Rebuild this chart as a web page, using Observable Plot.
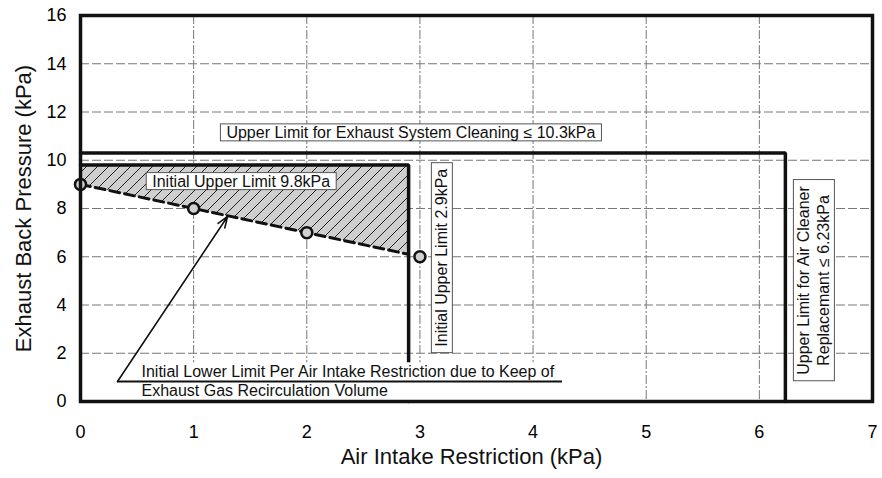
<!DOCTYPE html>
<html><head><meta charset="utf-8">
<script src="https://cdn.jsdelivr.net/npm/d3@7"></script>
<script src="https://cdn.jsdelivr.net/npm/@observablehq/plot@0.6"></script>
<style>body{margin:0;background:#fff} svg{display:block}</style>
</head><body><div id="chart"></div>
<script>
// ---- data ----
const xTicks = [0, 1, 2, 3, 4, 5, 6, 7];
const yTicks = [0, 2, 4, 6, 8, 10, 12, 14, 16];
const gridX = [1, 2, 3, 4, 5, 6];
const gridY = [2, 4, 6, 8, 10, 12, 14];
const measuredX = [0, 1, 2, 3];
const measuredY = [9, 8, 7, 6];
const lowerLimitX = [0, 1, 2, 2.9];
const lowerLimitY = [9, 8, 7, 6.1];
const initialUpperY = 9.8;      // kPa back pressure
const initialUpperX = 2.9;      // kPa intake restriction
const cleaningLimitY = 10.3;    // kPa
const airCleanerLimitX = 6.23;  // kPa

const boxedLabels = ["Upper Limit for Exhaust System Cleaning \u2264 10.3kPa", "Initial Upper Limit 9.8kPa"];
const boxedLabelX = [2.92, 1.42];
const boxedLabelY = [11.14, 9.12];
const rotLabels = ["Initial Upper Limit 2.9kPa", "Upper Limit for Air Cleaner\nReplacemant \u2264 6.23kPa"];
const rotLabelX = [3.186, 6.474];
const rotLabelY = [5.96, 5.016];
const noteLabel = "Initial Lower Limit Per Air Intake Restriction due to Keep of\nExhaust Gas Recirculation Volume";
const noteX = 0.539, noteY = 0.86;
const noteLineX = [0.327, 4.26], noteLineY = 0.83;
const arrowFrom = [0.327, 0.83], arrowTo = [1.30, 7.67];
const xLabel = "Air Intake Restriction (kPa)";
const yLabel = "Exhaust Back Pressure (kPa)";

// ---- derived tables ----
const measured = measuredX.map((x, i) => ({x, y: measuredY[i]}));
const lowerLimit = lowerLimitX.map((x, i) => ({x, y: lowerLimitY[i]}));
const boxed = boxedLabels.map((t, i) => ({t, x: boxedLabelX[i], y: boxedLabelY[i]}));
const rot = rotLabels.map((t, i) => ({t, x: rotLabelX[i], y: rotLabelY[i]}));
const initialUpperPath = [[0, initialUpperY], [initialUpperX, initialUpperY], [initialUpperX, 0]];
const cleaningPath = [[0, cleaningLimitY], [airCleanerLimitX, cleaningLimitY], [airCleanerLimitX, 0]];

const chart = Plot.plot({
  width: 882, height: 478,
  marginLeft: 80, marginRight: 10, marginTop: 15, marginBottom: 77,
  style: {fontFamily: "Liberation Sans, Arial, sans-serif", fontSize: "16px", background: "#fff", overflow: "visible"},
  x: {domain: [0, 7]},
  y: {domain: [0, 16]},
  marks: [
    Plot.ruleY(gridY, {stroke: "#777", strokeWidth: 1, strokeDasharray: "9,3"}),
    Plot.ruleX(gridX, {stroke: "#777", strokeWidth: 1, strokeDasharray: "9,2,2,2"}),
    Plot.areaY(lowerLimit, {x: "x", y1: "y", y2: initialUpperY, fill: "url(#hatch)"}),
    Plot.line(initialUpperPath, {x: d => d[0], y: d => d[1], stroke: "#111", strokeWidth: 3.5, strokeLinejoin: "miter"}),
    Plot.line(cleaningPath, {x: d => d[0], y: d => d[1], stroke: "#111", strokeWidth: 3.5, strokeLinejoin: "miter"}),
    Plot.line(lowerLimit, {x: "x", y: "y", stroke: "#111", strokeWidth: 3, strokeDasharray: "10,5"}),
    Plot.dot(measured, {x: "x", y: "y", r: 5.5, stroke: "#111", strokeWidth: 2.5, fill: "#d0d0d0"}),
    Plot.text([noteLabel], {x: noteX, y: noteY, textAnchor: "start", lineAnchor: "middle", lineHeight: 1.2, fontSize: 16, fill: "#111"}),
    Plot.ruleY([noteLineY], {x1: noteLineX[0], x2: noteLineX[1], stroke: "#111", strokeWidth: 2}),
    Plot.arrow([{x1: arrowFrom[0], y1: arrowFrom[1], x2: arrowTo[0], y2: arrowTo[1]}], {x1: "x1", y1: "y1", x2: "x2", y2: "y2", stroke: "#111", strokeWidth: 1.6, headLength: 11, headAngle: 40}),
    Plot.text(boxed, {x: "x", y: "y", text: "t", fontSize: 16, fill: "#111"}),
    Plot.text(rot, {x: "x", y: "y", text: "t", rotate: -90, lineHeight: 1.25, fontSize: 16, fill: "#111"}),
    Plot.frame({stroke: "#111", strokeWidth: 3.5}),
    Plot.axisX({ticks: xTicks, tickSize: 0, tickPadding: 24, fontSize: 18, label: null, tickFormat: d => d}),
    Plot.axisY({ticks: yTicks, tickSize: 0, tickPadding: 14, fontSize: 18, label: null, tickFormat: d => d}),
    Plot.text([xLabel], {frameAnchor: "bottom", lineAnchor: "middle", textAnchor: "middle", dy: 55, dx: -5, fontSize: 22, fill: "#111"}),
    Plot.text([yLabel], {frameAnchor: "left", lineAnchor: "middle", textAnchor: "middle", rotate: -90, dx: -57, fontSize: 22, fill: "#111"})
  ]
});

document.getElementById("chart").appendChild(chart);

// hatch pattern
const ns = "http://www.w3.org/2000/svg";
const defs = document.createElementNS(ns, "defs");
defs.innerHTML = `<pattern id="hatch" patternUnits="userSpaceOnUse" width="11" height="11">
  <rect width="11" height="11" fill="#cfcfcf"/>
  <path d="M-1,1 l2,-2 M0,11 l11,-11 M10,12 l2,-2" stroke="#222" stroke-width="1"/>
</pattern>`;
chart.insertBefore(defs, chart.firstChild);

// boxes behind labels, matched by their text
function boxTexts(labels, padX, padY, fill, stroke) {
  const starts = labels.map(s => s.split("\n")[0]);
  chart.querySelectorAll("text").forEach(t => {
    const c = t.textContent;
    if (!starts.some(s => c.startsWith(s))) return;
    const b = t.getBBox();
    const r = document.createElementNS(ns, "rect");
    r.setAttribute("x", b.x - padX);
    r.setAttribute("y", b.y - padY);
    r.setAttribute("width", b.width + 2 * padX);
    r.setAttribute("height", b.height + 2 * padY);
    r.setAttribute("fill", fill);
    r.setAttribute("stroke", stroke);
    r.setAttribute("stroke-width", 1);
    if (t.getAttribute("transform")) r.setAttribute("transform", t.getAttribute("transform"));
    t.parentNode.insertBefore(r, t);
  });
}
boxTexts(boxedLabels, 6, 0, "#fff", "#555");
boxTexts(rotLabels, 6, 2, "#fff", "#555");
boxTexts([noteLabel], 2, 1, "#fff", "none");
</script></body></html>
